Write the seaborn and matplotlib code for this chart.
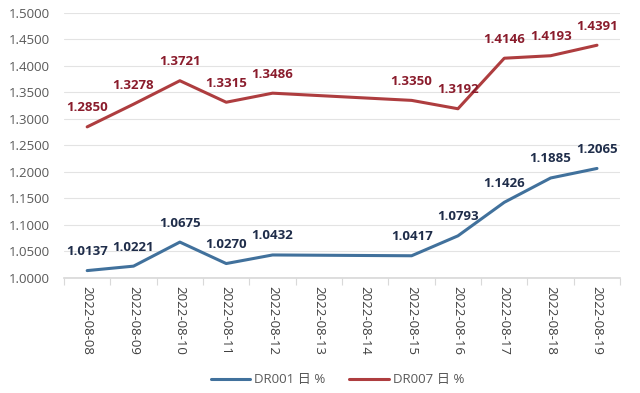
import matplotlib
matplotlib.use("Agg")
import matplotlib.pyplot as plt
import seaborn as sns
import numpy as np

dates = ["2022-08-08", "2022-08-09", "2022-08-10", "2022-08-11", "2022-08-12", "2022-08-13",
         "2022-08-14", "2022-08-15", "2022-08-16", "2022-08-17", "2022-08-18", "2022-08-19"]
obs_dates = ["2022-08-08", "2022-08-09", "2022-08-10", "2022-08-11", "2022-08-12",
             "2022-08-15", "2022-08-16", "2022-08-17", "2022-08-18", "2022-08-19"]
dr001 = [1.0137, 1.0221, 1.0675, 1.0270, 1.0432, 1.0417, 1.0793, 1.1426, 1.1885, 1.2065]
dr007 = [1.2850, 1.3278, 1.3721, 1.3315, 1.3486, 1.3350, 1.3192, 1.4146, 1.4193, 1.4391]
yticks = [1.0, 1.05, 1.10, 1.15, 1.20, 1.25, 1.30, 1.35, 1.40, 1.45, 1.50]
names = ["DR001 日 %", "DR007 日 %"]

sns.set_theme(style="white")
plt.rcParams['font.family'] = ['Open Sans', 'Noto Sans CJK SC', 'DejaVu Sans']

fig = plt.figure(figsize=(6.4, 3.93), dpi=100)
ax = fig.add_axes([0.1, 0.293, 0.869, 0.674])

xpos = [dates.index(d) for d in obs_dates]
c1, c2 = "#41719C", "#AE3D3F"
l1, l2 = "#1F2D4A", "#8A1C2C"
sns.lineplot(x=xpos, y=dr001, ax=ax, color=c1, linewidth=2.2, label=names[0])
sns.lineplot(x=xpos, y=dr007, ax=ax, color=c2, linewidth=2.2, label=names[1])

for x, v in zip(xpos, dr001):
    ax.annotate(f"{v:.4f}", (x, v), xytext=(0, 9), textcoords="offset points",
                ha="center", va="bottom", fontsize=9.5, fontweight="bold", color=l1)
for x, v in zip(xpos, dr007):
    ax.annotate(f"{v:.4f}", (x, v), xytext=(0, 9), textcoords="offset points",
                ha="center", va="bottom", fontsize=9.5, fontweight="bold", color=l2)

ax.set_xlim(-0.5, len(dates) - 0.5)
ax.set_ylim(1.0, 1.5)
ax.set_yticks(yticks)
ax.set_yticklabels([f"{t:.4f}" for t in yticks], fontsize=9.5, color="#595959")
ax.set_xticks(range(len(dates)))
ax.set_xticklabels(dates, rotation=270, fontsize=9.5, color="#404040")
ax.set_xticks(np.arange(-0.5, len(dates), 1.0), minor=True)
ax.tick_params(axis="x", which="major", length=0, pad=6)
ax.tick_params(axis="x", which="minor", length=5, color="#D9D9D9", width=0.8, bottom=True)
ax.tick_params(axis="y", length=0, pad=10)
ax.grid(axis="y", color="#E3E3E3", linewidth=0.8)
ax.set_axisbelow(True)
for s in ["top", "right", "left"]:
    ax.spines[s].set_visible(False)
ax.spines["bottom"].set_color("#D9D9D9")
ax.set_xlabel("")
ax.set_ylabel("")

handles, labels = ax.get_legend_handles_labels()
ax.get_legend().remove()
fig.legend(handles, labels, loc="center", bbox_to_anchor=(0.527, 0.034), ncol=2, frameon=False,
           fontsize=9.5, handlelength=3.0, columnspacing=1.8, handletextpad=0.3,
           labelcolor="#595959")

fig.savefig("out.png", dpi=100)
